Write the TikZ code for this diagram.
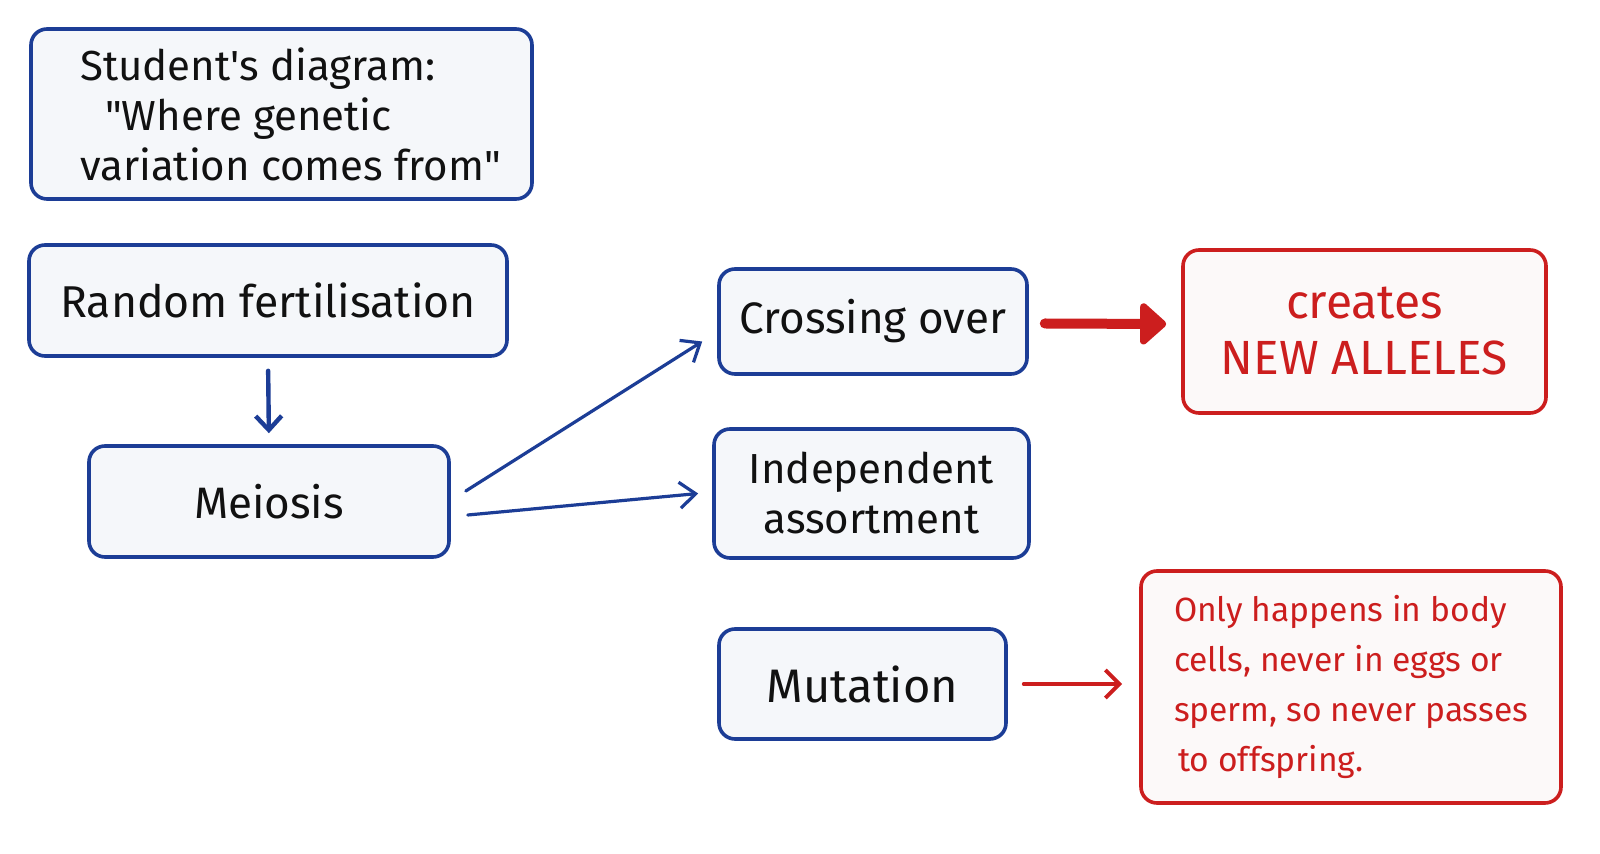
\documentclass[tikz,border=0pt]{standalone}
\usepackage{fontspec}
\setmainfont{Fira Sans}
\usetikzlibrary{arrows.meta,calc}
\definecolor{bblue}{HTML}{1C3D96}
\definecolor{rred}{HTML}{CC1E1E}
\definecolor{bfill}{HTML}{F5F7FA}
\definecolor{rfill}{HTML}{FCF9F9}
\definecolor{ink}{HTML}{111111}
\begin{document}
\begin{tikzpicture}[x=0.5pt,y=-0.5pt,
  bluebox/.style={draw=bblue,fill=bfill,line width=1.8pt,rounded corners=8pt,inner sep=0pt,text=ink,align=center,font=\fontsize{21}{25}\selectfont},
  redbox/.style={draw=rred,fill=rfill,line width=1.8pt,rounded corners=8pt,inner sep=0pt,text=rred,align=center},
  barrow/.style={draw=bblue,line width=1.6pt,line cap=round,-{Straight Barb[length=8pt,width=13pt,line width=1.6pt]}},
  bdown/.style={draw=bblue,line width=2.2pt,line cap=round,-{Straight Barb[length=7pt,width=13pt,line width=2.2pt]}},
  rarrow/.style={draw=rred,line width=2pt,line cap=round,-{Straight Barb[length=7pt,width=14pt,line width=2pt]}},
  rthick/.style={draw=rred,line width=5pt,line cap=round,-{Triangle[length=14pt,width=24pt,round]}}
]
\fill[white] (0,0) rectangle (1600,854);
\useasboundingbox (0,0) rectangle (1600,854);

\node[bluebox,minimum width=250.5pt,minimum height=85pt,align=left] (title) at (281.5,114)
  {\hspace*{9pt}Student\textquotesingle s diagram:\\\hspace*{21.5pt}\textquotedbl Where genetic\\\hspace*{9pt}variation comes from\textquotedbl};
\node[bluebox,minimum width=239pt,minimum height=55.5pt,font=\fontsize{22.3}{25}\selectfont] (rf) at (268,300.5) {Random fertilisation};
\node[bluebox,minimum width=180pt,minimum height=55.5pt,font=\fontsize{22}{25}\selectfont] (mei) at (269,501.5) {Meiosis};
\node[bluebox,minimum width=154pt,minimum height=52.5pt,font=\fontsize{22}{25}\selectfont] (cross) at (873,321.5) {Crossing over};
\node[bluebox,minimum width=157.5pt,minimum height=64.5pt] (indep) at (871.5,493.5) {Independent\\assortment};
\node[bluebox,minimum width=143.5pt,minimum height=55pt,font=\fontsize{23.5}{25}\selectfont] (mut) at (862.5,684) {Mutation};
\node[redbox,minimum width=181.5pt,minimum height=81.5pt,font=\fontsize{24}{28}\selectfont] (creates) at (1364.5,331.5) {creates\\NEW ALLELES};
\node[redbox,minimum width=210pt,minimum height=116pt,align=left,font=\fontsize{16.8}{25}\selectfont] (only) at (1351,687)
  {Only happens in body\\cells, never in eggs or\\sperm, so never passes\\\hspace*{2pt}to offspring.};

\draw[bdown,shorten <=6.5pt,shorten >=5.5pt] (rf.south) -- (mei.north);
\draw[barrow] ([xshift=7.5pt,yshift=5.25pt]mei.east) -- ([xshift=-7.5pt,yshift=-10pt]cross.west);
\draw[barrow] ([xshift=8.5pt,yshift=-6.75pt]mei.east) -- ([xshift=-7pt]indep.west);
\draw[rthick] ([xshift=8pt,yshift=-1pt]cross.east) -- ([xshift=-7.5pt,yshift=3.75pt]creates.west);
\draw[rarrow] ([xshift=8pt]mut.east) -- ([xshift=-8.5pt,yshift=1.5pt]only.west);
\end{tikzpicture}
\end{document}
